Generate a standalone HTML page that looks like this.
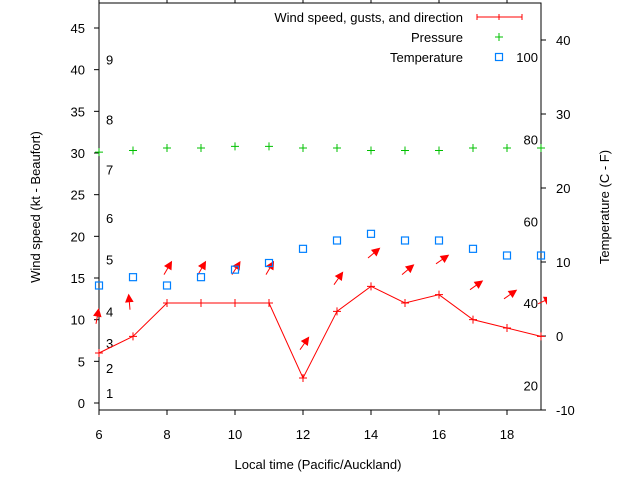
<!DOCTYPE html>
<html><head><meta charset="utf-8"><style>
html,body{margin:0;padding:0;background:#fff}
svg{display:block;font-family:"Liberation Sans",sans-serif}
</style></head><body>
<svg id="chart" width="640" height="480" viewBox="0 0 640 480" xmlns="http://www.w3.org/2000/svg">
<g id="axes"></g><g id="marks"></g><g id="legend"></g>
</svg>
<script>
const hours = [6,7,8,9,10,11,12,13,14,15,16,17,18,19];
const windSpeed = [6,8,12,12,12,12,3,11,14,12,13,10,9,8];
const gustSpeed = [9.5,11.2,15.4,15.4,15.4,15.4,6.4,14.2,17.4,15.4,16.7,13.6,12.5,11.9];
const windDir = [80,95,60,60,58,60,55,55,40,40,35,35,35,25];
const pressure = [30.1,30.3,30.6,30.6,30.8,30.8,30.6,30.6,30.3,30.3,30.3,30.6,30.6,30.6];
const temperature = [14.1,15.1,14.1,15.1,16,16.8,18.5,19.5,20.3,19.5,19.5,18.5,17.7,17.7];
const xTicks = [6,8,10,12,14,16,18];
const yTicks = [0,5,10,15,20,25,30,35,40,45];
const y2Ticks = [-10,0,10,20,30,40];
const beaufort = [[1,1.2],[2,4.2],[3,7.2],[4,11],[5,17.2],[6,22.2],[7,28],[8,34],[9,41.2]];
const fahrenheit = [[20,2.1],[40,12],[60,21.8],[80,31.6],[100,41.5]];

const L=99,R=541,T=3,B=410;
const X=v=>L+(v-6)*34;
const Y=v=>403-v*25/3;
const Y2=v=>336-v*7.4;
const NS="http://www.w3.org/2000/svg";
function mk(tag,attrs,parent,txt){const e=document.createElementNS(NS,tag);for(const k in attrs)e.setAttribute(k,attrs[k]);if(txt!==undefined)e.textContent=txt;parent.appendChild(e);return e;}
const ax=document.getElementById('axes'),mg=document.getElementById('marks'),lg=document.getElementById('legend');

let fr=mk('rect',{x:L,y:T,width:R-L,height:B-T,fill:'none',stroke:'#000','stroke-width':1},ax);


xTicks.forEach(v=>{
  let t=mk('line',{x1:X(v),x2:X(v),y1:B,y2:B+5,stroke:'#000'},ax);
  
  
  let t2=mk('line',{x1:X(v),x2:X(v),y1:T,y2:T-4,stroke:'#000'},ax);
  
  
  let l=mk('text',{x:X(v),y:439,'font-size':13,'text-anchor':'middle'},ax,String(v));
  
  
});
yTicks.forEach(v=>{
  let t=mk('line',{x1:L-5,x2:L,y1:Y(v),y2:Y(v),stroke:'#000'},ax);
  
  
  let l=mk('text',{x:85,y:Y(v)+5,'font-size':13,'text-anchor':'end'},ax,String(v));
  
  
});
y2Ticks.forEach(v=>{
  let t=mk('line',{x1:R,x2:R+5,y1:Y2(v),y2:Y2(v),stroke:'#000'},ax);
  
  
  let l=mk('text',{x:556,y:Y2(v)+5,'font-size':13},ax,String(v));
  
  
});
beaufort.forEach(([n,v])=>{
  let l=mk('text',{x:106,y:Y(v)+5,'font-size':13},ax,String(n));
  
  
});
fahrenheit.forEach(([n,v])=>{
  let l=mk('text',{x:538,y:Y(v)+5,'font-size':13,'text-anchor':'end'},ax,String(n));
  
  
});
let yt=mk('text',{x:0,y:0,'font-size':13,'text-anchor':'middle',transform:'translate(40,207) rotate(-90)'},ax,'Wind speed (kt - Beaufort)');


let y2t=mk('text',{x:0,y:0,'font-size':13,'text-anchor':'middle',transform:'translate(609,207) rotate(-90)'},ax,'Temperature (C - F)');


let xt=mk('text',{x:318,y:469,'font-size':13,'text-anchor':'middle'},ax,'Local time (Pacific/Auckland)');



const defs=mk('defs',{},mg);const cp=mk('clipPath',{id:'cp'},defs);mk('rect',{x:L-6,y:T,width:R-L+12,height:B-T},cp);
const g=mk('g',{'clip-path':'url(#cp)'},mg);

let ln=mk('polyline',{points:hours.map((h,i)=>X(h)+','+Y(windSpeed[i])).join(' '),fill:'none',stroke:'#f00','stroke-width':1},g);


hours.forEach((h,i)=>{
  const x=X(h),y=Y(windSpeed[i]);
  let p=mk('path',{d:`M${x-4} ${y}H${x+4}M${x} ${y-4}V${y+4}`,stroke:'#f00','stroke-width':1},g);
  
  
  const a=windDir[i]*Math.PI/180, len=15;
  const bx=x-3, by=Y(gustSpeed[i]);
  const hx=bx+len*Math.cos(a), hy=by-len*Math.sin(a);
  const hl=7, hw=3.5;
  const cx=hx-hl*Math.cos(a), cy=hy+hl*Math.sin(a);
  const px=Math.sin(a)*hw, py=Math.cos(a)*hw;
  let ar=mk('g',{},g);
  
  
  mk('line',{x1:bx,y1:by,x2:cx,y2:cy,stroke:'#f00','stroke-width':1},ar);
  mk('polygon',{points:`${hx},${hy} ${cx+px},${cy+py} ${cx-px},${cy-py}`,fill:'#f00',stroke:'#f00'},ar);
});
hours.forEach((h,i)=>{
  const x=X(h),y=Y(pressure[i]);
  let p=mk('path',{d:`M${x-4} ${y}H${x+4}M${x} ${y-4}V${y+4}`,stroke:'#00c000','stroke-width':1},g);
  
  
});
hours.forEach((h,i)=>{
  const x=X(h),y=Y(temperature[i]);
  let p=mk('rect',{x:x-3.5,y:y-3.5,width:7,height:7,fill:'none',stroke:'#0080ff','stroke-width':1.2},g);
  
  
});

const rows=[['Wind speed, gusts, and direction',17],['Pressure',37],['Temperature',57]];
rows.forEach(([t,y],i)=>{
  let e=mk('g',{},lg);
  
  
  mk('text',{x:463,y:y+5,'font-size':13,'text-anchor':'end'},e,t);
  if(i===0){mk('path',{d:`M477 ${y}H522M477 ${y-3}V${y+3}M522 ${y-3}V${y+3}M499 ${y-3}V${y+3}`,stroke:'#f00'},e);}
  if(i===1){mk('path',{d:`M495 ${y}H503M499 ${y-4}V${y+4}`,stroke:'#00c000'},e);}
  if(i===2){mk('rect',{x:495.5,y:y-3.5,width:7,height:7,fill:'none',stroke:'#0080ff','stroke-width':1.2},e);}
});
</script>
</body></html>
